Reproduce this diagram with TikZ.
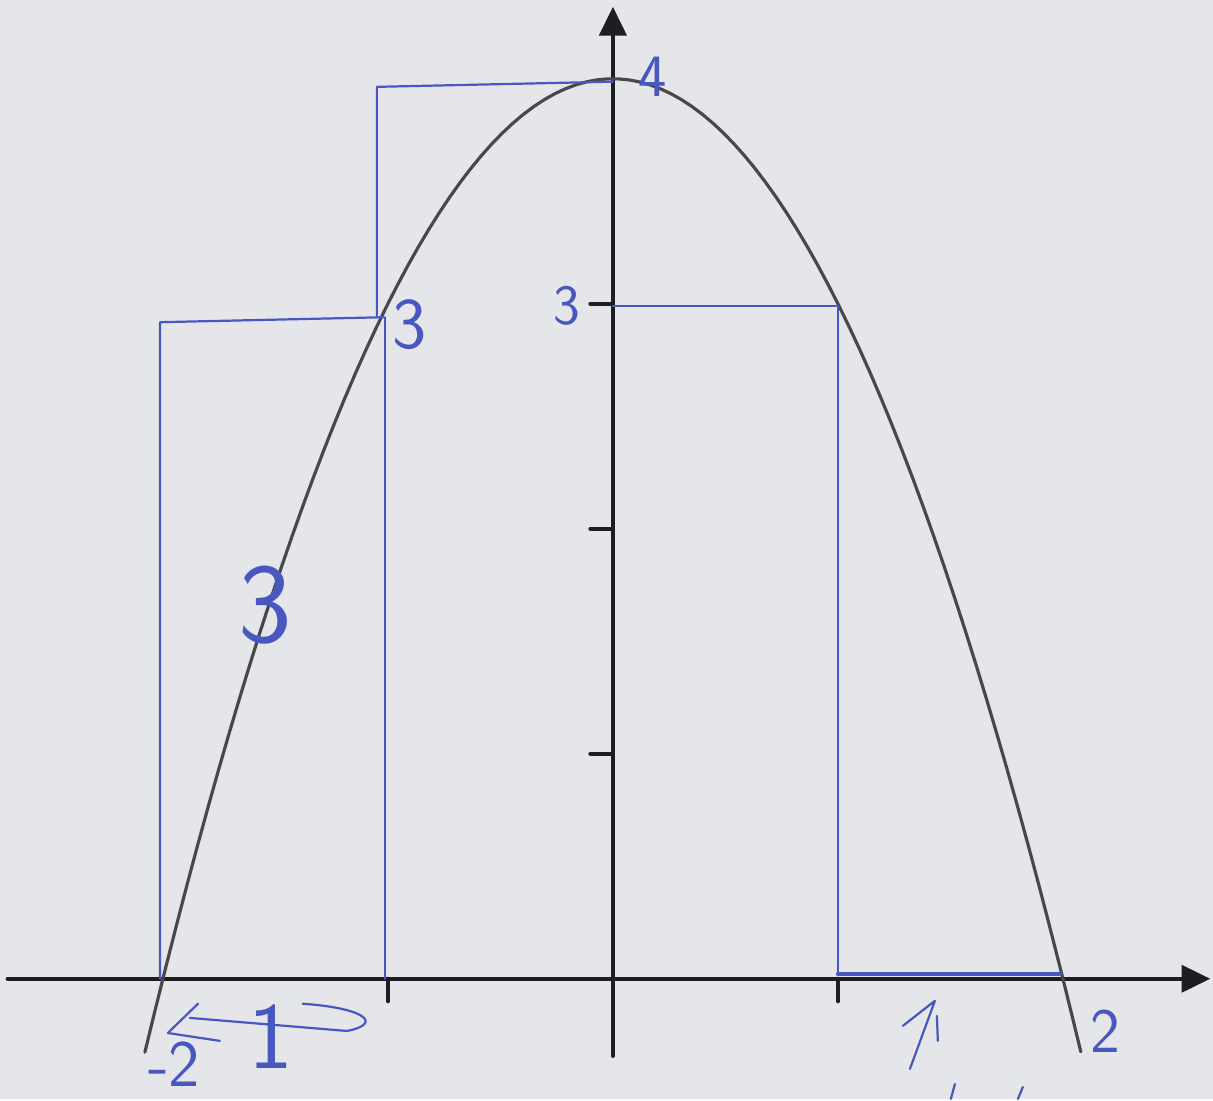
\documentclass[tikz,border=0pt]{standalone}
\usepackage{tikz}
\usetikzlibrary{arrows.meta, calc, positioning}
\usepackage{xcolor}
\definecolor{penna}{RGB}{72,88,192}
\definecolor{carta}{RGB}{229,230,234}
\definecolor{grafite}{RGB}{72,72,74}
\definecolor{inchiostro}{RGB}{30,30,34}

\begin{document}
\begin{tikzpicture}[
    x=2.5cm, y=2.5cm,
    line cap=round,
    line join=round,
    assi/.style     = {line width=1.3pt, inchiostro, -{Triangle[length=0.32cm,width=0.3cm]}},
    tacca/.style    = {line width=1.3pt, inchiostro},
    curva/.style    = {line width=1pt, grafite},
    tratto/.style   = {line width=0.7pt, penna},
    scritta/.style  = {text=penna, inner sep=0pt}
]

% ---- foglio ----
\fill[carta] (-2.724,-0.534) rectangle (2.667,4.350);

% ---- assi ----
\draw[assi] (-2.69,0) -- (2.655,0);
\draw[assi] (0,-0.343) -- (0,4.32);
\foreach \x in {-1,1}{
    \draw[tacca] (\x,0) -- (\x,-0.1);
}
\foreach \y in {1,2,3}{
    \draw[tacca] (0,\y) -- (-0.1,\y);
}

% ---- parabola ----
\draw[curva] plot[domain=-2.08:2.08, samples=90] (\x,{4-\x*\x});

% ---- rettangoli ----
\draw[tratto] (-2.013,0) -- (-2.013,2.918) -- (-1.02,2.94);
\draw[tratto] (-1.013,0) -- (-1.013,2.94);
\draw[tratto] (-1.049,2.94) -- (-1.049,3.964) -- (0,3.987);
\draw[tratto] (0,2.99) -- (1.0,2.99) -- (1.0,0.022);
\draw[tratto, line width=1.3pt] (1.0,0.022) -- (1.987,0.022);

% ---- scritte ----
\node[scritta, font=\sffamily\fontsize{19}{19}\selectfont] (quattro) at (0.176,4.01) {4};
\node[scritta, font=\sffamily\fontsize{23}{23}\selectfont] (treA) at (-0.902,2.909) {3};
\node[scritta, font=\sffamily\fontsize{18}{18}\selectfont] (treB) at (-0.205,2.99) {3};
\node[scritta, font=\sffamily\fontsize{36}{36}\selectfont] (treC) at (-1.547,1.661) {3};
\node[scritta, font=\sffamily\fontsize{21}{21}\selectfont] (menodue) at (-1.95,-0.38) {-2};
\node[scritta, font=\sffamily\fontsize{20}{20}\selectfont] (due) at (2.19,-0.232) {2};
\node[scritta, font=\sffamily\fontsize{30}{30}\selectfont] (uno) at (-1.52,-0.255) {1};

% ---- freccia della base ----
\draw[tratto] (-1.844,-0.111) -- (-1.978,-0.241) -- (-1.747,-0.276);
\draw[tratto] (-1.880,-0.174) -- (-1.182,-0.232);
\draw[tratto] (-1.378,-0.111) .. controls (-1.10,-0.13) and (-1.02,-0.20) .. (-1.182,-0.232);

% ---- freccia in basso a destra ----
\draw[tratto] (1.289,-0.209) -- (1.431,-0.098) -- (1.32,-0.401);
\draw[tratto] (1.44,-0.165) -- (1.444,-0.276);
\draw[tratto] (1.52,-0.468) -- (1.502,-0.534);
\draw[tratto] (1.822,-0.481) -- (1.80,-0.534);

\end{tikzpicture}
\end{document}
